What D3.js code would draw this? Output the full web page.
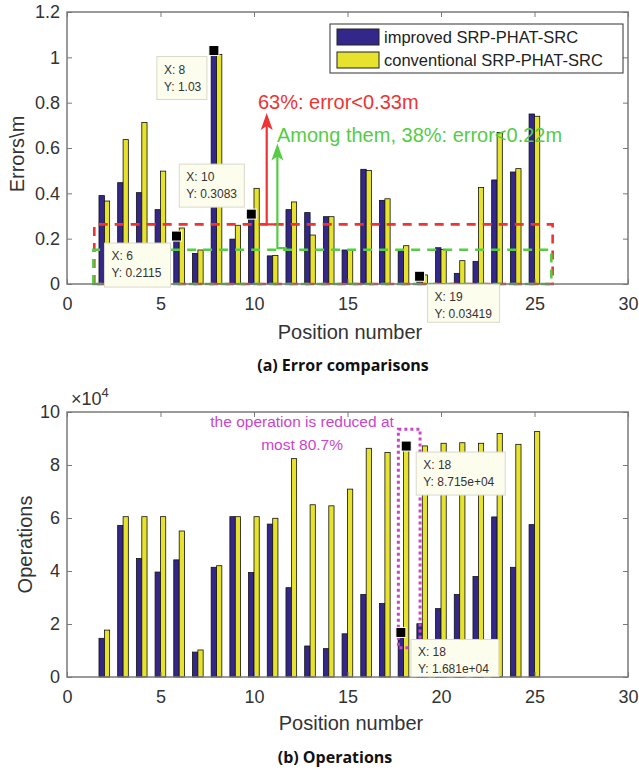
<!DOCTYPE html>
<html>
<head>
<meta charset="utf-8">
<script src="https://cdn.jsdelivr.net/npm/d3@7"></script>
<style>
  body { margin: 0; background: #fff; }
  svg { display: block; font-family: "Liberation Sans", Arial, sans-serif; }
  .tick text { fill: #333; font-size: 18px; }
  .caption { font-family: "Open Sans", "Noto Sans", sans-serif; font-weight: 700; }
</style>
</head>
<body>
<div id="viz"></div>
<script>
// ===== data =====
const positions = [2, 3, 4, 5, 6, 7, 8, 9, 10, 11, 12, 13, 14, 15, 16, 17, 18, 19, 20, 21, 22, 23, 24, 25];

// (a) localization error, m
const errImproved = [0.39, 0.447, 0.403, 0.328, 0.2115, 0.135, 1.03, 0.198, 0.3083, 0.124, 0.328, 0.315,
  0.297, 0.15, 0.506, 0.369, 0.15, 0.03419, 0.16, 0.047, 0.10, 0.459, 0.494, 0.75];
const errConventional = [0.366, 0.637, 0.713, 0.498, 0.247, 0.15, 1.013, 0.259, 0.422, 0.126, 0.362, 0.216,
  0.297, 0.148, 0.501, 0.376, 0.169, 0.04, 0.153, 0.103, 0.426, 0.669, 0.509, 0.74];

// (b) operations, x10^4
const opsImproved = [1.46, 5.72, 4.47, 3.96, 4.42, 0.94, 4.14, 6.05, 3.94, 5.77, 3.37, 1.17,
  1.07, 1.63, 3.11, 2.77, 1.681, 2.01, 2.58, 3.11, 3.79, 6.04, 4.14, 5.75];
const opsConventional = [1.77, 6.05, 6.05, 6.05, 5.51, 1.02, 4.2, 6.05, 6.05, 5.99, 8.24, 6.5,
  6.46, 7.09, 8.63, 8.47, 8.715, 8.72, 8.82, 8.84, 8.82, 9.19, 8.78, 9.26];

const seriesNames = ['improved SRP-PHAT-SRC', 'conventional SRP-PHAT-SRC'];
const xTicks = [0, 5, 10, 15, 20, 25, 30];
const errTicks = [0, 0.2, 0.4, 0.6, 0.8, 1, 1.2];
const opsTicks = [0, 2, 4, 6, 8, 10];

// data tips: [x, y, seriesIndex, label]
const tipsA = [[8, 1.03, 0, '1.03'], [10, 0.3083, 0, '0.3083'], [6, 0.2115, 0, '0.2115'], [19, 0.03419, 0, '0.03419']];
const tipsB = [[18, 8.715, 1, '8.715e+04'], [18, 1.681, 0, '1.681e+04']];

const colors = ['#33288a', '#e6e22e'];

// ===== dimensions =====
const width = 639, height = 770;
const dims = {
  left: 67, right: 628,
  a: { top: 12, bottom: 284 },
  b: { top: 412, bottom: 677 },
};

const svg = d3.select('#viz').append('svg')
  .attr('width', width)
  .attr('height', height);

// ===== scales =====
const xScale = d3.scaleLinear().domain([0, 30]).range([dims.left, dims.right]);
const yErr = d3.scaleLinear().domain([0, 1.2]).range([dims.a.bottom, dims.a.top]);
const yOps = d3.scaleLinear().domain([0, 10]).range([dims.b.bottom, dims.b.top]);

const barOffset = [[-0.29, 0], [0, 0.28]];

function drawBars(g, valuesList, yScale) {
  valuesList.forEach((values, s) => {
    g.append('g').selectAll('rect')
      .data(positions.map((p, i) => ({ p, v: values[i] })))
      .join('rect')
        .attr('x', d => xScale(d.p + barOffset[s][0]))
        .attr('width', xScale(barOffset[s][1]) - xScale(barOffset[s][0]))
        .attr('y', d => yScale(d.v))
        .attr('height', d => yScale(0) - yScale(d.v))
        .attr('fill', colors[s])
        .attr('stroke', '#111')
        .attr('stroke-width', 0.8);
  });
}

// hidden: x tick labels covered by a data tip in the original
function drawAxes(g, yScale, yTickVals, box, hidden = []) {
  const h = box.bottom - box.top;
  const axColor = '#7a7a7a';
  g.append('g').attr('transform', `translate(0,${box.bottom})`)
    .call(d3.axisBottom(xScale).tickValues(xTicks).tickSizeInner(-5).tickSizeOuter(0).tickPadding(13)
      .tickFormat(d => hidden.includes(d) ? '' : d3.format('d')(d)));
  g.append('g').attr('transform', `translate(0,${box.top})`)
    .call(d3.axisTop(xScale).tickValues(xTicks).tickSizeInner(-5).tickSizeOuter(0).tickFormat(''));
  g.append('g').attr('transform', `translate(${dims.left},0)`)
    .call(d3.axisLeft(yScale).tickValues(yTickVals).tickSizeInner(-5).tickSizeOuter(0).tickPadding(7).tickFormat(d3.format('~g')));
  g.append('g').attr('transform', `translate(${dims.right},0)`)
    .call(d3.axisRight(yScale).tickValues(yTickVals).tickSizeInner(-5).tickSizeOuter(0).tickFormat(''));
  g.selectAll('.domain').remove();
  g.selectAll('.tick line').attr('stroke', axColor);
  g.append('rect')
    .attr('x', dims.left).attr('y', box.top)
    .attr('width', dims.right - dims.left).attr('height', h)
    .attr('fill', 'none').attr('stroke', axColor).attr('stroke-width', 1.5);
}

function drawTip(g, px, py, dx, dy, w, h, xLabel, yLabel) {
  const box = g.append('g');
  box.append('rect')
    .attr('x', px + dx).attr('y', py + dy).attr('width', w).attr('height', h)
    .attr('fill', '#fdfdee').attr('stroke', '#d8d8cc').attr('stroke-width', 1);
  box.append('text').attr('x', px + dx + 7).attr('y', py + dy + 17)
    .attr('font-size', 12).attr('fill', '#333').text('X: ' + xLabel);
  box.append('text').attr('x', px + dx + 7).attr('y', py + dy + 34)
    .attr('font-size', 12).attr('fill', '#333').text('Y: ' + yLabel);
  g.append('rect')
    .attr('x', px - 5).attr('y', py - 5).attr('width', 10).attr('height', 10)
    .attr('fill', '#000').attr('stroke', '#fff').attr('stroke-width', 1);
}

function tipPoint(t, yScale) {
  const off = barOffset[t[2]];
  return [xScale(t[0] + (off[0] + off[1]) / 2), yScale(t[1])];
}

// ===================== (a) Error comparisons =====================
const gA = svg.append('g');
drawBars(gA, [errImproved, errConventional], yErr);

// dashed threshold boxes
function dashedBox(g, x0, x1, yTop, color) {
  g.append('path')
    .attr('d', `M${xScale(x0)},${yErr(0)} V${yErr(yTop)} H${xScale(x1)} V${yErr(0)} Z`)
    .attr('fill', 'none').attr('stroke', color).attr('stroke-width', 2.6)
    .attr('stroke-dasharray', '9,7');
}
dashedBox(gA, 1.46, 25.97, 0.263, '#ee3333');
dashedBox(gA, 1.41, 25.9, 0.151, '#55cc44');

// arrows
function arrow(g, x, yFrom, yTo, xFoot, color) {
  const x0 = xScale(x), y0 = yErr(yFrom), y1 = yErr(yTo);
  g.append('path')
    .attr('d', `M${xScale(xFoot)},${y0} H${x0} V${y1 + 12}`)
    .attr('fill', 'none').attr('stroke', color).attr('stroke-width', 2.2);
  g.append('path')
    .attr('d', `M${x0},${y1} L${x0 - 6},${y1 + 17} L${x0},${y1 + 13} L${x0 + 6},${y1 + 17} Z`)
    .attr('fill', color);
}
arrow(gA, 10.68, 0.263, 0.754, 11.15, '#ee3333');
arrow(gA, 11.25, 0.158, 0.62, 11.75, '#55cc44');

gA.append('text').attr('x', xScale(10.21)).attr('y', yErr(0.772))
  .attr('font-size', 20).attr('fill', '#ee3333').text('63%: error<0.33m');
gA.append('text').attr('x', xScale(11.23)).attr('y', yErr(0.626))
  .attr('font-size', 20).attr('fill', '#55cc44').text('Among them, 38%: error<0.22m');

drawAxes(gA, yErr, errTicks, dims.a, [20]);

// data tips (a)
const tipLayoutA = [[-57, 6, 50, 43], [-72, -50, 65, 43], [-72, 7, 66, 44], [8, 8, 72, 38]];
tipsA.forEach((t, i) => {
  const [px, py] = tipPoint(t, yErr);
  const L = tipLayoutA[i];
  drawTip(gA, px, py, L[0], L[1], L[2], L[3], t[0], t[3]);
});

// legend
const legend = gA.append('g');
legend.append('rect').attr('x', 330).attr('y', 24).attr('width', 293).attr('height', 49)
  .attr('fill', '#fff').attr('stroke', '#333').attr('stroke-width', 1);
seriesNames.forEach((name, i) => {
  legend.append('rect').attr('x', 337).attr('y', 29 + i * 23).attr('width', 42).attr('height', 16)
    .attr('fill', colors[i]).attr('stroke', '#222').attr('stroke-width', 1);
  legend.append('text').attr('x', 384).attr('y', 43 + i * 23)
    .attr('font-size', 16.5).attr('fill', '#222').text(name);
});

gA.append('text').attr('transform', `translate(24,${(dims.a.top + dims.a.bottom) / 2 + 6}) rotate(-90)`)
  .attr('text-anchor', 'middle').attr('font-size', 20).attr('fill', '#333').text('Errors\\m');
gA.append('text').attr('x', 350).attr('y', 339)
  .attr('text-anchor', 'middle').attr('font-size', 20).attr('fill', '#333').text('Position number');
gA.append('text').attr('class', 'caption').attr('x', 343).attr('y', 371)
  .attr('text-anchor', 'middle').attr('font-size', 16).attr('fill', '#111').text('(a) Error comparisons');

// ===================== (b) Operations =====================
const gB = svg.append('g');
drawBars(gB, [opsImproved, opsConventional], yOps);

// highlight of position 18
gB.append('rect')
  .attr('x', xScale(17.72)).attr('y', yOps(9.35))
  .attr('width', xScale(18.88) - xScale(17.72)).attr('height', yOps(1.1) - yOps(9.35))
  .attr('fill', 'none').attr('stroke', '#cc44cc').attr('stroke-width', 3)
  .attr('stroke-dasharray', '3,3');

gB.append('text').attr('x', xScale(12.57)).attr('y', yOps(9.43))
  .attr('text-anchor', 'middle').attr('font-size', 15.5).attr('fill', '#cc44cc').text('the operation is reduced at');
gB.append('text').attr('x', xScale(12.57)).attr('y', yOps(8.57))
  .attr('text-anchor', 'middle').attr('font-size', 15.5).attr('fill', '#cc44cc').text('most 80.7%');

drawAxes(gB, yOps, opsTicks, dims.b);

const tipLayoutB = [[10, 6, 89, 43], [10, 7, 88, 37]];
tipsB.forEach((t, i) => {
  const [px, py] = tipPoint(t, yOps);
  const L = tipLayoutB[i];
  drawTip(gB, px, py, L[0], L[1], L[2], L[3], t[0], t[3]);
});

// exponent label
const expo = gB.append('text').attr('x', 71).attr('y', 405).attr('font-size', 18).attr('fill', '#333');
expo.append('tspan').text('\u00d710');
expo.append('tspan').attr('dy', -8).attr('font-size', 13).text('4');

gB.append('text').attr('transform', `translate(32,${(dims.b.top + dims.b.bottom) / 2}) rotate(-90)`)
  .attr('text-anchor', 'middle').attr('font-size', 20).attr('fill', '#333').text('Operations');
gB.append('text').attr('x', 351).attr('y', 730)
  .attr('text-anchor', 'middle').attr('font-size', 20).attr('fill', '#333').text('Position number');
gB.append('text').attr('class', 'caption').attr('x', 335).attr('y', 763)
  .attr('text-anchor', 'middle').attr('font-size', 16).attr('fill', '#111').text('(b) Operations');
</script>
</body>
</html>
